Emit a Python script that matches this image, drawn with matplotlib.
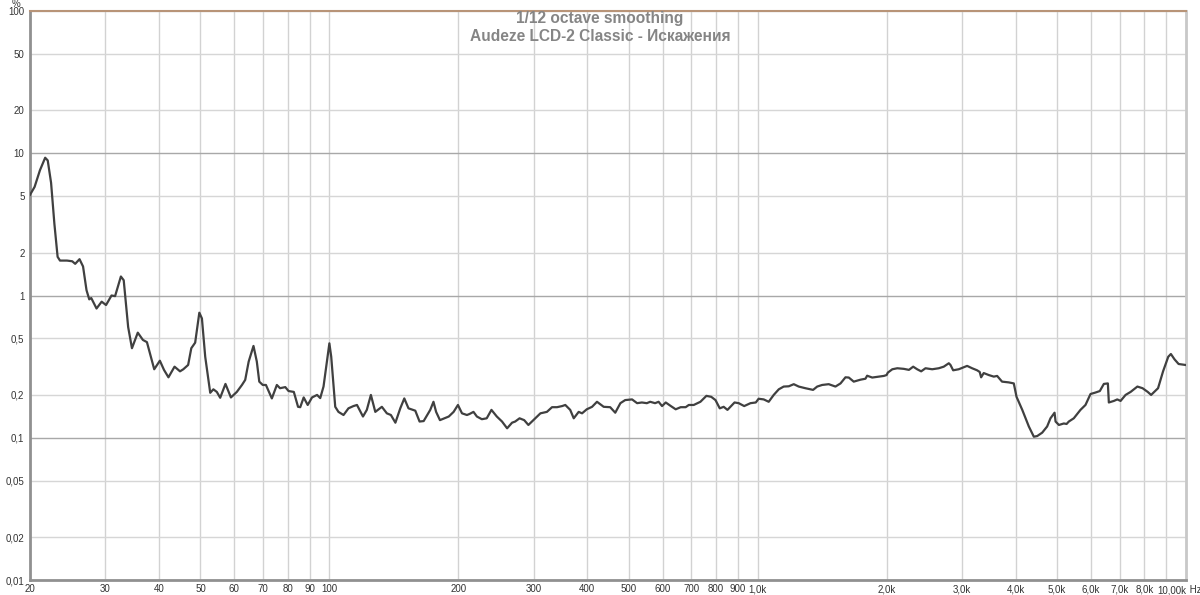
#!/usr/bin/env python3
import matplotlib
matplotlib.use("Agg")
import matplotlib.pyplot as plt
import numpy as np

plt.rcParams['font.family'] = ['Liberation Sans', 'DejaVu Sans']

# distortion curve (Hz, %)
freq = [20.0, 20.5, 21.1, 21.7, 22.0, 22.4, 22.8, 23.2, 23.5, 24.4, 25.1, 25.5, 26.1, 26.6,
        27.1, 27.5, 27.8, 28.6, 29.4, 30.1, 31.0, 31.6, 32.6, 33.1, 33.9, 34.6, 35.7, 36.7,
        37.5, 39.0, 40.2, 41.1, 42.1, 43.5, 44.8, 45.6, 46.8, 47.6, 48.6, 49.7, 50.4, 51.3,
        52.7, 53.6, 54.6, 55.6, 57.2, 58.9, 60.8, 62.5, 63.6, 64.8, 66.5, 67.7, 68.6, 69.9,
        71.1, 73.4, 75.4, 76.7, 78.9, 80.3, 82.6, 84.5, 85.5, 87.1, 89.0, 91.1, 93.6, 95.2,
        96.9, 100.0, 101.0, 103.2, 105.0, 107.9, 110.8, 113.8, 116.0, 119.8, 122.3, 125.0,
        128.0, 132.6, 136.2, 139.2, 142.6, 146.4, 149.6, 153.0, 158.7, 162.4, 166.0, 172.0,
        175.0, 177.5, 181.2, 190.0, 195.0, 199.6, 204, 209.5, 212.5, 217, 221, 227, 233, 239,
        246, 253, 260, 267, 271.5, 278, 285, 291.5, 302.5, 311, 322, 331, 340, 349.5, 355.5,
        365, 372, 382, 389, 399, 410.5, 421.5, 437, 452.5, 465, 478, 490.5, 509, 523, 536.5,
        551, 561, 576, 587, 598, 610, 627, 643.5, 661, 679, 690.5, 709, 735, 759, 779, 797,
        815.5, 833, 850, 883, 903, 930, 962, 990, 1005, 1033, 1061, 1090, 1120, 1150, 1182,
        1214, 1247, 1292, 1347, 1377, 1414, 1465, 1519, 1561, 1603, 1632, 1676, 1738, 1785,
        1801, 1851, 1917, 1970, 2000, 2013, 2062, 2118, 2194, 2255, 2307, 2357, 2408, 2465,
        2555, 2647, 2719, 2794, 2819, 2860, 2947, 3027, 3083, 3167, 3253, 3299, 3324, 3371,
        3463, 3558, 3623, 3720, 3856, 3962, 4021, 4147, 4296, 4413, 4494, 4616, 4740, 4826,
        4933, 4960, 5050, 5186, 5263, 5326, 5470, 5670, 5825, 5985, 6150, 6292, 6430, 6570,
        6605, 6786, 6910, 7035, 7226, 7425, 7700, 7917, 8140, 8290, 8605, 8840, 9090, 9220,
        9400, 9610, 9960]
dist = [5.1, 5.8, 7.6, 9.3, 8.9, 6.2, 3.2, 1.87, 1.76, 1.76, 1.74, 1.67, 1.8, 1.6,
        1.09, 0.94, 0.96, 0.81, 0.905, 0.857, 1.0, 0.99, 1.36, 1.28, 0.60, 0.426, 0.548, 0.487,
        0.47, 0.303, 0.348, 0.30, 0.266, 0.316, 0.293, 0.303, 0.325, 0.426, 0.466, 0.757, 0.69, 0.371,
        0.207, 0.219, 0.21, 0.191, 0.239, 0.192, 0.21, 0.235, 0.255, 0.343, 0.442, 0.343, 0.248, 0.235,
        0.235, 0.189, 0.235, 0.223, 0.227, 0.213, 0.21, 0.165, 0.164, 0.192, 0.17, 0.192, 0.2, 0.19,
        0.229, 0.461, 0.371, 0.165, 0.152, 0.1445, 0.161, 0.167, 0.17, 0.141, 0.157, 0.2,
        0.152, 0.165, 0.1485, 0.1445, 0.1276, 0.161, 0.189, 0.161, 0.155, 0.130, 0.131, 0.157,
        0.179, 0.152, 0.133, 0.141, 0.152, 0.17, 0.1485, 0.1445, 0.147, 0.152, 0.141, 0.135, 0.137, 0.157,
        0.141, 0.130, 0.1165, 0.1276, 0.130, 0.137, 0.133, 0.123, 0.137, 0.1485, 0.152, 0.164, 0.164, 0.167, 0.17,
        0.157, 0.137, 0.152, 0.1485, 0.1585, 0.165, 0.179, 0.165, 0.164, 0.150, 0.175, 0.184, 0.186, 0.175, 0.177,
        0.175, 0.179, 0.175, 0.179, 0.167, 0.177, 0.167, 0.1585, 0.164, 0.164, 0.17, 0.17, 0.179, 0.197, 0.194, 0.184,
        0.161, 0.165, 0.157, 0.177, 0.175, 0.167, 0.175, 0.177, 0.188, 0.186, 0.179, 0.2, 0.219, 0.229, 0.230,
        0.238, 0.229, 0.223, 0.217, 0.229, 0.235, 0.238, 0.229, 0.241, 0.266, 0.265, 0.248, 0.256, 0.260,
        0.273, 0.265, 0.269, 0.272, 0.276, 0.287, 0.303, 0.308, 0.305, 0.30, 0.316, 0.303, 0.293, 0.308,
        0.303, 0.308, 0.316, 0.334, 0.325, 0.298, 0.303, 0.313, 0.320, 0.308, 0.298, 0.290, 0.266, 0.285,
        0.276, 0.269, 0.272, 0.248, 0.245, 0.241, 0.194, 0.157, 0.120, 0.1017, 0.1028, 0.1086, 0.120, 0.137,
        0.150, 0.130, 0.123, 0.126, 0.125, 0.130, 0.137, 0.157, 0.17, 0.203, 0.208, 0.213, 0.239, 0.241,
        0.177, 0.1815, 0.186, 0.1815, 0.2, 0.21, 0.229, 0.223, 0.21, 0.2, 0.223, 0.293, 0.371, 0.388,
        0.356, 0.330, 0.325]

x_ticks = [20, 30, 40, 50, 60, 70, 80, 90, 100, 200, 300, 400, 500, 600, 700, 800, 900,
           1000, 2000, 3000, 4000, 5000, 6000, 7000, 8000]
x_labels = ["20", "30", "40", "50", "60", "70", "80", "90", "100", "200", "300", "400", "500",
            "600", "700", "800", "900", "1,0k", "2,0k", "3,0k", "4,0k", "5,0k", "6,0k", "7,0k", "8,0k"]
y_ticks = [0.01, 0.02, 0.05, 0.1, 0.2, 0.5, 1, 2, 5, 10, 20, 50, 100]
y_labels = ["0,01", "0,02", "0,05", "0,1", "0,2", "0,5", "1", "2", "5", "10", "20", "50", "100"]

title1 = "1/12 octave smoothing"
title2 = "Audeze LCD-2 Classic - Искажения"

fig = plt.figure(figsize=(12, 5.95), dpi=100)
ax = fig.add_axes([30 / 1200, 15 / 595, 1156 / 1200, 569 / 595])
ax.set_xscale("log")
ax.set_yscale("log")
ax.set_xlim(20, 10000)
ax.set_ylim(0.01, 100)

# grid: light everywhere, darker horizontal lines on decades
grid_x = x_ticks + [9000]
for gx in grid_x:
    ax.axvline(gx, color="#d2d2d2", lw=1.0, zorder=0)
for gy in y_ticks:
    c = "#a8a8a8" if gy in (0.1, 1, 10) else "#d6d6d6"
    ax.axhline(gy, color=c, lw=1.0, zorder=0)

ax.plot(freq, dist, color="#404040", lw=1.6, zorder=3)

ax.set_xticks(x_ticks)
ax.set_xticklabels(x_labels)
ax.set_yticks(y_ticks)
ax.set_yticklabels(y_labels)
ax.xaxis.set_minor_locator(matplotlib.ticker.NullLocator())
ax.yaxis.set_minor_locator(matplotlib.ticker.NullLocator())
ax.tick_params(axis="both", length=0, labelsize=7, colors="#333333")
ax.tick_params(axis="x", pad=3)
ax.tick_params(axis="y", pad=4)

ax.text(1.0, -0.009, "10,00k", transform=ax.transAxes, ha="right", va="top",
        fontsize=7, color="#333333")
ax.text(1.001, -0.009, " Hz", transform=ax.transAxes, ha="left", va="top",
        fontsize=7, color="#333333")
ax.text(-0.012, 1.003, "%", transform=ax.transAxes, ha="center", va="bottom",
        fontsize=7, color="#333333")

for side in ("left", "bottom"):
    ax.spines[side].set_color("#909090")
    ax.spines[side].set_linewidth(2.0)
ax.spines["right"].set_color("#c8c8c8")
ax.spines["right"].set_linewidth(2.0)
ax.spines["top"].set_color("#b89478")
ax.spines["top"].set_linewidth(1.5)

fig.text(0.5, 1 - 19 / 595, title1, ha="center", va="center", fontsize=11.2,
         fontweight="bold", color="#858585")
fig.text(0.5, 1 - 36.5 / 595, title2, ha="center", va="center", fontsize=11.2,
         fontweight="bold", color="#858585")

fig.savefig("out.png", dpi=100)
